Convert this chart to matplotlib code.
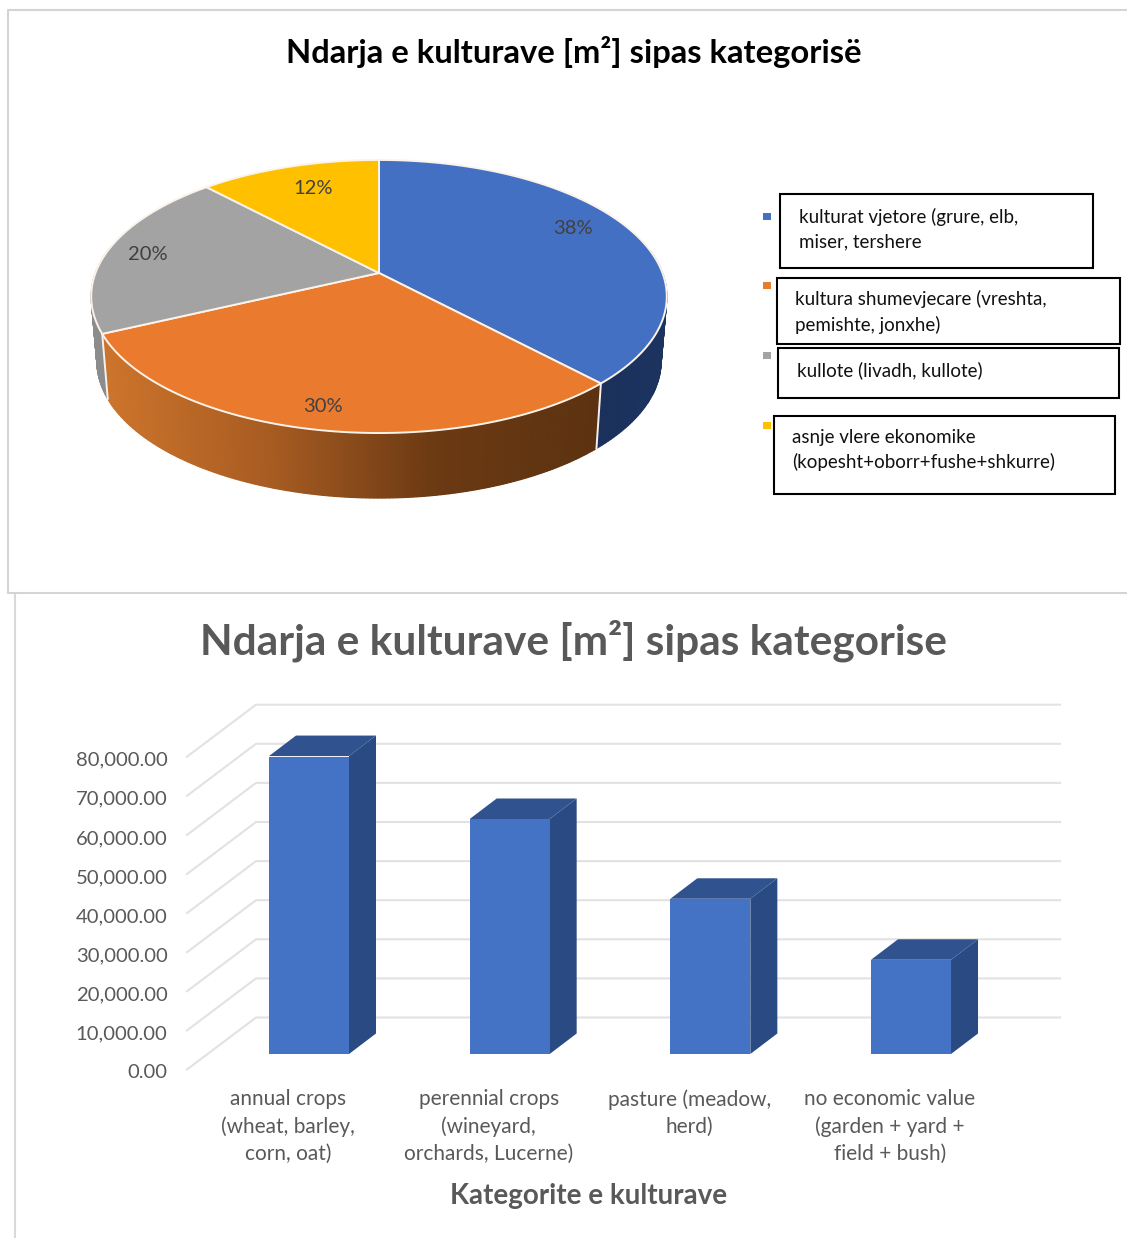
import matplotlib
matplotlib.use("Agg")
import matplotlib.pyplot as plt
from matplotlib.colors import LinearSegmentedColormap
from matplotlib.patches import Polygon, Rectangle
from matplotlib.transforms import ScaledTranslation
import numpy as np

plt.rcParams['font.family'] = ['Lato', 'DejaVu Sans']

# data
pie_title = "Ndarja e kulturave [m²] sipas kategorisë"
pie_labels = ["kulturat vjetore (grure, elb,\nmiser, tershere",
              "kultura shumevjecare (vreshta,\npemishte, jonxhe)",
              "kullote (livadh, kullote)",
              "asnje vlere ekonomike\n(kopesht+oborr+fushe+shkurre)"]
pie_shares = [38, 30, 20, 12]
pie_colors = ["#4370c3", "#ea7b2e", "#a3a3a3", "#ffc000"]

bar_title = "Ndarja e kulturave [m²] sipas kategorise"
bar_xlabel = "Kategorite e kulturave"
bar_categories = ["annual crops\n(wheat, barley,\ncorn, oat)",
                  "perennial crops\n(wineyard,\norchards, Lucerne)",
                  "pasture (meadow,\nherd)",
                  "no economic value\n(garden + yard +\nfield + bush)"]
bar_values = [76200, 60100, 39700, 24100]
y_ticks = [0, 10000, 20000, 30000, 40000, 50000, 60000, 70000, 80000]

W, H = 1127, 1238
fig = plt.figure(figsize=(W / 100, H / 100), dpi=100, facecolor="white")

# pixel coordinate layer for the top chart and the frames
bg = fig.add_axes([0, 0, 1, 1])
bg.set_xlim(0, W)
bg.set_ylim(H, 0)
bg.axis("off")

bg.plot([W, 8, 8, W], [10, 10, 593, 593], color="#d4d4d4", lw=1.5)
bg.plot([15, 15], [595, H], color="#d9d9d9", lw=1.5)


# ---- pie with perspective ----
cx, cy = 379, 273
sx, a, c = 283.5, 132.5, 0.172
depth = 65
shrink = 0.98


def rim(angle):
    u, v = np.sin(angle), np.cos(angle)
    w = 1 + c * v
    return cx + sx * u / w, cy - a * v / w


edges = np.cumsum([0] + pie_shares) / sum(pie_shares) * 2 * np.pi

side_maps = [LinearSegmentedColormap.from_list("b", ["#16294f", "#1c3360"]),
             LinearSegmentedColormap.from_list("o", ["#cd742c", "#a85c22", "#6c3a13", "#5c3210"]),
             LinearSegmentedColormap.from_list("g", ["#8c8c8c", "#8c8c8c"]),
             LinearSegmentedColormap.from_list("y", ["#b08600", "#b08600"])]

# sides first
for i in range(len(pie_shares)):
    t = np.linspace(edges[i], edges[i + 1], 160)
    x, y = rim(t)
    xlow = cx + (x - cx) * shrink
    ylow = y + depth
    xmin, xmax = x.min(), x.max()
    for j in range(len(t) - 1):
        if abs(t[j] - np.pi) > np.pi * 0.56:  # back of the disc is hidden
            continue
        col = side_maps[i]((x[j] - xmin) / max(xmax - xmin, 1))
        bg.add_patch(Polygon([(x[j], y[j]), (x[j + 1], y[j + 1]),
                              (xlow[j + 1], ylow[j + 1]), (xlow[j], ylow[j])],
                             closed=True, fc=col, ec=col, lw=0.9))

# divider lines on the side
for ang in edges[1:3]:
    x0, y0 = rim(ang)
    bg.plot([x0, cx + (x0 - cx) * shrink], [y0, y0 + depth], color="#f2f2f2", lw=1.4)

# top faces
for i in range(len(pie_shares)):
    t = np.linspace(edges[i], edges[i + 1], 160)
    x, y = rim(t)
    bg.add_patch(Polygon(np.column_stack([np.r_[cx, x], np.r_[cy, y]]), closed=True,
                         fc=pie_colors[i], ec="#fbf3ea", lw=1.4, joinstyle="round", zorder=3))

pie_label_xy = [(573, 229), (323, 406), (148, 255), (313, 189)]
for share, (lx, ly) in zip(pie_shares, pie_label_xy):
    bg.text(lx, ly, f"{share}%", ha="center", va="center", fontsize=14.5,
            color="#404040", zorder=4)

bg.text(574, 52, pie_title, ha="center", va="center", fontsize=23.6, fontweight="bold", color="black")

# legend, covered by pasted boxes
marker_y = [216, 285, 355, 425]
boxes = [(780, 194, 1093, 268), (777, 278, 1120, 344), (778, 348, 1119, 398), (774, 416, 1115, 494)]
text_xy = [(799, 229), (795, 312), (797, 370), (792, 450)]
for col, my, box, (tx, ty), lab in zip(pie_colors, marker_y, boxes, text_xy, pie_labels):
    bg.add_patch(Rectangle((763, my - 3.5), 7.5, 7.5, fc=col, ec="none"))
    bg.add_patch(Rectangle((box[0], box[1]), box[2] - box[0], box[3] - box[1],
                           fc="white", ec="black", lw=1.5, zorder=5))
    bg.text(tx, ty, lab, ha="left", va="center", fontsize=13.5, color="#111111",
            linespacing=1.48, zorder=6)

# ---- 3d column chart ----
px_per_val = 39.1 / 10000
px_per_cat = 200.67
ax_l, ax_r = 187, 1060
y0_px = 1069.5
y_top = 80000
ax = fig.add_axes([ax_l / W, 1 - y0_px / H, (ax_r - ax_l) / W, y_top * px_per_val / H])
ax.set_xlim((ax_l - 309) / px_per_cat, (ax_r - 309) / px_per_cat)
ax.set_ylim(0, y_top)
ax.patch.set_alpha(0)
for s in ax.spines.values():
    s.set_visible(False)

# offsets from the front plane to the back wall
wall_dx = 69 / px_per_cat
wall_dy = 52 / 39.1 * 10000
x_left = ax.get_xlim()[0]
x_right = ax.get_xlim()[1]
for v in y_ticks:
    ax.plot([x_left, x_left + wall_dx, x_right], [v, v + wall_dy, v + wall_dy],
            color="#e2e2e2", lw=1.5, clip_on=False, zorder=1)

bar_w = 80 / px_per_cat
lift = 15.5 / 39.1 * 10000
dep_x = 27 / px_per_cat
dep_y = 20.5 / 39.1 * 10000
xs = np.arange(len(bar_values))
ax.bar(xs, bar_values, width=bar_w, bottom=lift, color="#4472c4", zorder=4)
for xi, val in zip(xs, bar_values):
    xr = xi + bar_w / 2
    xl = xi - bar_w / 2
    top = lift + val
    ax.add_patch(Polygon([(xr, lift), (xr + dep_x, lift + dep_y), (xr + dep_x, top + dep_y), (xr, top)],
                         closed=True, fc="#2a4a84", ec="none", zorder=3, clip_on=False))
    ax.add_patch(Polygon([(xl, top), (xr, top), (xr + dep_x, top + dep_y), (xl + dep_x, top + dep_y)],
                         closed=True, fc="#30528f", ec="none", zorder=3, clip_on=False))

ax.set_yticks(y_ticks)
ax.set_yticklabels([f"{v:,.2f}" for v in y_ticks], fontsize=14.6, color="#595959")
ax.tick_params(axis="y", length=0, pad=14)
# the labels sit a little low against their gridline ends
nudge = ScaledTranslation(0, -2 / 100, fig.dpi_scale_trans)
for lab in ax.get_yticklabels():
    lab.set_transform(lab.get_transform() + nudge)
ax.set_xticks(xs - 21 / px_per_cat)
ax.set_xticklabels(bar_categories, fontsize=15, color="#595959", linespacing=1.42)
ax.tick_params(axis="x", length=0, pad=14.2)
ax.set_xlabel(bar_xlabel, fontsize=20, fontweight="bold", color="#595959", labelpad=11)
ax.xaxis.set_label_coords((589 - ax_l) / (ax_r - ax_l), -(1196 - y0_px) / (y_top * px_per_val),
                          transform=ax.transAxes)
ax.xaxis.label.set_va("center")

bg.text(574, 641, bar_title, ha="center", va="center", fontsize=30.5, fontweight="bold", color="#595959")

fig.savefig("out.png", dpi=100, facecolor="white")
